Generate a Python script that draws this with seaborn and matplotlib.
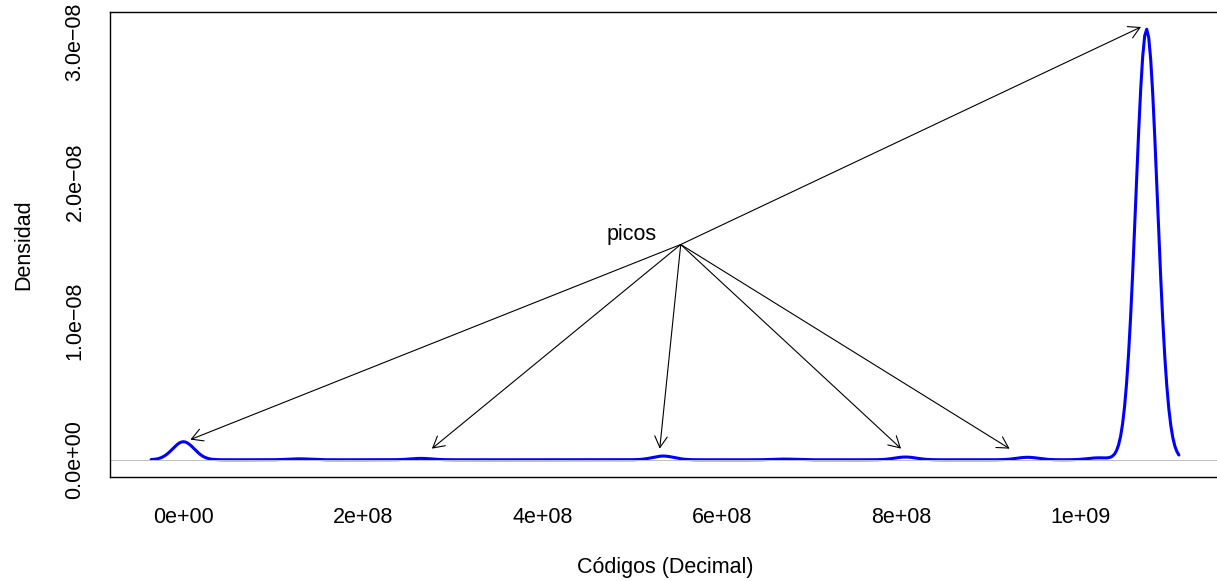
import numpy as np
import matplotlib
matplotlib.use("Agg")
import matplotlib.pyplot as plt
import seaborn as sns

codigos = [0, 1.29e8, 2.65e8, 5.35e8, 6.7e8, 8.05e8, 9.41e8, 1.02e9, 1073741824]
conteos = [391, 21, 30, 81, 15, 60, 54, 42, 9325]
ancho_banda = 1.2e7

# "picos" annotation
texto_xy = (5.0e8, 1.62e-8)
origen_flechas = (5.544e8, 1.547e-8)
picos_x = [1.0675e9, 7.8e6, 2.77e8, 5.31e8, 8.0e8, 9.21e8]
picos_y = [3.11e-8, 1.45e-9, 0.8e-9, 0.8e-9, 0.8e-9, 0.8e-9]

xticks = [0, 2e8, 4e8, 6e8, 8e8, 1e9]
xlabels = ["0e+00", "2e+08", "4e+08", "6e+08", "8e+08", "1e+09"]
yticks = [0, 0.5e-8, 1e-8, 1.5e-8, 2e-8, 2.5e-8, 3e-8]
ylabels = ["0.0e+00", "", "1.0e\u221208", "", "2.0e\u221208", "", "3.0e\u221208"]

sns.set_style("white")
plt.rcParams["font.family"] = ["Liberation Sans", "DejaVu Sans"]
for k in ["text.color", "axes.labelcolor", "xtick.color", "ytick.color"]:
    plt.rcParams[k] = "black"
fs = 15.5

fig = plt.figure(figsize=(12.17, 5.81), dpi=100)
ax = fig.add_axes([110 / 1217, 104 / 581, 1110 / 1217, 465 / 581])

datos = np.repeat(codigos, conteos)
sd = np.std(datos, ddof=1)
sns.kdeplot(x=datos, bw_method=ancho_banda / sd, gridsize=512, cut=3,
            color="#0000FF", lw=2.2, ax=ax)
ax.axhline(0, color="#bebebe", lw=0.7)

# R-style 4% axis expansion
linea = ax.lines[0]
xd, yd = linea.get_xdata(), linea.get_ydata()
dx = (xd.max() - xd.min()) * 0.04
ax.set_xlim(xd.min() - dx, xd.max() + dx)
ax.set_ylim(-0.04 * yd.max(), 1.04 * yd.max())

for px, py in zip(picos_x, picos_y):
    ax.annotate("", xy=(px, py), xytext=origen_flechas,
                arrowprops=dict(arrowstyle="->,head_length=0.8,head_width=0.45",
                                color="black", lw=0.8, shrinkA=0, shrinkB=0,
                                mutation_scale=10))
ax.text(texto_xy[0], texto_xy[1], "picos", ha="center", va="center", fontsize=fs)

ax.set_xticks(xticks)
ax.set_xticklabels(xlabels, fontsize=fs)
ax.set_yticks(yticks)
ax.set_yticklabels(ylabels, fontsize=fs, rotation=90, va="center")
ax.tick_params(axis="both", direction="out", length=8.6, width=1.0, color="black")
ax.tick_params(axis="x", pad=13)
ax.tick_params(axis="y", pad=9)

for s in ax.spines.values():
    s.set_color("black")
    s.set_linewidth(1.0)

ax.set_xlabel("Códigos (Decimal)", fontsize=fs, va="center")
ax.set_ylabel("Densidad", fontsize=fs, va="center")
ax.xaxis.set_label_coords(0.5, -90 / 465)
ax.yaxis.set_label_coords(-86 / 1110, 0.5)

fig.savefig("out.png", dpi=100)
